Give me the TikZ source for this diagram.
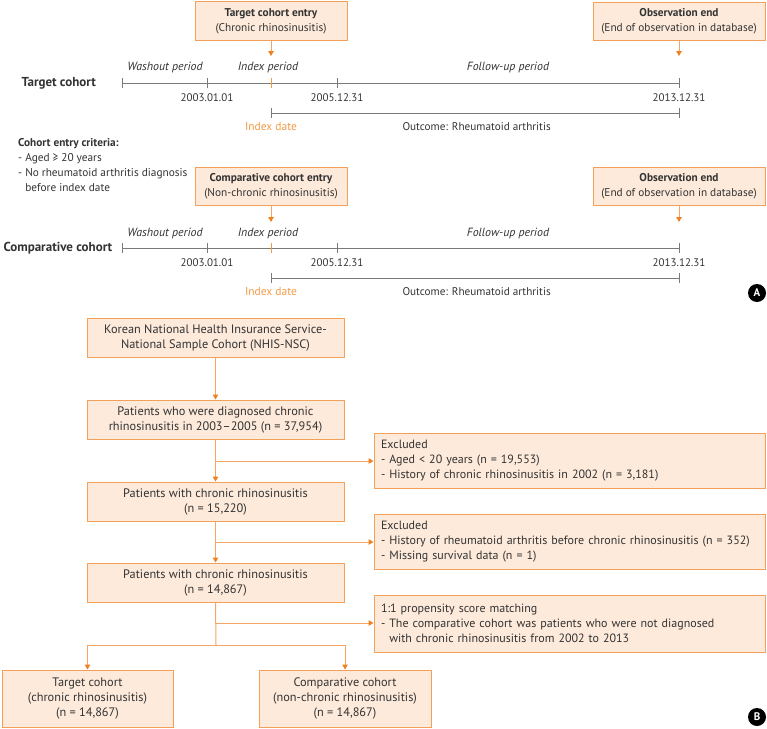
\documentclass[tikz,border=0pt]{standalone}
\usepackage{fontspec}
\setmainfont{PT Sans}
\usetikzlibrary{arrows.meta}
\definecolor{boxfill}{HTML}{FDEADB}
\definecolor{boxdraw}{HTML}{F3A05A}
\definecolor{conc}{HTML}{F5A666}
\definecolor{arrh}{HTML}{F07F1E}
\definecolor{txt}{HTML}{333333}
\definecolor{tl}{HTML}{7A7A7A}
\definecolor{idx}{HTML}{F39A45}
\begin{document}
\begin{tikzpicture}[x=1pt,y=-1pt,
  font=\fontsize{12.3}{15}\selectfont, text=txt,
  box/.style={draw=boxdraw, fill=boxfill, line width=1pt, inner sep=0pt, align=center},
  abox/.style={box, font=\fontsize{11.3}{15}\selectfont},
  lbox/.style={draw=boxdraw, fill=boxfill, line width=1pt, inner xsep=7pt, inner ysep=0pt, align=left, font=\fontsize{12}{15}\selectfont},
  con/.style={draw=conc, line width=1pt},
  arrowc/.style={con, -{Triangle[length=5pt,width=5.5pt,color=arrh]}},
  tline/.style={draw=tl, line width=0.9pt},
  itick/.style={draw=idx, line width=1pt},
  tlab/.style={font=\fontsize{11.9}{13}\itshape},
  dlab/.style={font=\fontsize{11}{13}\selectfont},
  cohort/.style={anchor=west, font=\fontsize{13}{15}\bfseries},
  badge/.style={circle, fill=black, text=white, inner sep=0pt, minimum size=18pt, font=\fontsize{11}{12}\bfseries}]
\useasboundingbox (0,0) rectangle (767,728);

% ---------- Part A : target cohort ----------
\node[abox, minimum width=152, minimum height=39] (te) at (271,21) {\textbf{Target cohort entry}\\(Chronic rhinosinusitis)};
\node[abox, minimum width=172, minimum height=38] (oe) at (679,21) {\textbf{Observation end}\\(End of observation in database)};
\coordinate (tea) at (271,56);
\coordinate (oea) at (679,56);
\draw[arrowc] (te.south) -- (tea);
\draw[arrowc] (oe.south) -- (oea);

\node[cohort] (tcl) at (18,83) {Target cohort};
\coordinate (a0) at (122,83);
\coordinate (a1) at (207,83);
\coordinate (aI) at (271,83);
\coordinate (a2) at (337,83);
\coordinate (a3) at (679,83);
\draw[tline] (a0) -- (a3);
\foreach \c in {a0,a1,a2,a3} \draw[tline] ([yshift=-5pt]\c) -- ([yshift=5pt]\c);
\draw[itick] ([yshift=-5pt]aI) -- ([yshift=5pt]aI);
\node[tlab] (aw) at (165,67) {Washout period};
\node[tlab] (ai) at (268,67) {Index period};
\node[tlab] (af) at (508,67) {Follow-up period};
\node[dlab] (ad1) at (207,98) {2003.01.01};
\node[dlab] (ad2) at (337,98) {2005.12.31};
\node[dlab] (ad3) at (679,98) {2013.12.31};
\coordinate (ao0) at (271,113);
\coordinate (ao1) at (679,113);
\draw[tline] (ao0) -- (ao1);
\foreach \c in {ao0,ao1} \draw[tline] ([yshift=-5pt]\c) -- ([yshift=5pt]\c);
\node[text=idx, font=\fontsize{11.5}{13}\selectfont] (aid) at (271,127) {Index date};
\node[anchor=west, font=\fontsize{11.2}{13}\selectfont] (aout) at (399,127) {Outcome: Rheumatoid arthritis};

% ---------- criteria ----------
\node[anchor=north west, align=left, font=\fontsize{11.3}{15}\selectfont, inner sep=0pt] (crit) at (18,138)
  {\textbf{Cohort entry criteria:}\\- Aged ≥ 20 years\\- No rheumatoid arthritis diagnosis\\\phantom{- }before index date};

% ---------- Part A : comparative cohort ----------
\node[abox, minimum width=152, minimum height=38] (ce) at (271,186) {\textbf{Comparative cohort entry}\\(Non-chronic rhinosinusitis)};
\node[abox, minimum width=172, minimum height=38] (oe2) at (679,186) {\textbf{Observation end}\\(End of observation in database)};
\coordinate (cea) at (271,222);
\coordinate (oea2) at (679,222);
\draw[arrowc] (ce.south) -- (cea);
\draw[arrowc] (oe2.south) -- (oea2);

\node[cohort] (ccl) at (0,248) {Comparative cohort};
\coordinate (c0) at (122,248);
\coordinate (c1) at (207,248);
\coordinate (cI) at (271,248);
\coordinate (c2) at (337,248);
\coordinate (c3) at (679,248);
\draw[tline] (c0) -- (c3);
\foreach \c in {c0,c1,c2,c3} \draw[tline] ([yshift=-5pt]\c) -- ([yshift=5pt]\c);
\draw[itick] ([yshift=-5pt]cI) -- ([yshift=5pt]cI);
\node[tlab] (cw) at (165,233) {Washout period};
\node[tlab] (ci) at (268,233) {Index period};
\node[tlab] (cf) at (508,233) {Follow-up period};
\node[dlab] (cd1) at (207,263) {2003.01.01};
\node[dlab] (cd2) at (337,263) {2005.12.31};
\node[dlab] (cd3) at (679,263) {2013.12.31};
\coordinate (co0) at (271,278);
\coordinate (co1) at (679,278);
\draw[tline] (co0) -- (co1);
\foreach \c in {co0,co1} \draw[tline] ([yshift=-5pt]\c) -- ([yshift=5pt]\c);
\node[text=idx, font=\fontsize{11.5}{13}\selectfont] (cid) at (271,292) {Index date};
\node[anchor=west, font=\fontsize{11.2}{13}\selectfont] (cout) at (399,292) {Outcome: Rheumatoid arthritis};

\node[badge] (bA) at (757,293) {A};

% ---------- Part B ----------
\node[box, minimum width=257, minimum height=39] (b1) at (215.5,337.5) {Korean National Health Insurance Service-\\National Sample Cohort (NHIS-NSC)};
\node[box, minimum width=257, minimum height=39] (b2) at (215.5,419.5) {Patients who were diagnosed chronic\\rhinosinusitis in 2003–2005 (n = 37,954)};
\node[box, minimum width=257, minimum height=39] (b3) at (215.5,501.5) {Patients with chronic rhinosinusitis\\(n = 15,220)};
\node[box, minimum width=257, minimum height=39] (b4) at (215.5,582.5) {Patients with chronic rhinosinusitis\\(n = 14,867)};

\node[lbox, minimum width=391, minimum height=55, text width=377] (x1) at (569.5,460.5)
  {Excluded\\- Aged < 20 years (n = 19,553)\\- History of chronic rhinosinusitis in 2002 (n = 3,181)};
\node[lbox, minimum width=391, minimum height=55, text width=377] (x2) at (569.5,541.5)
  {Excluded\\- History of rheumatoid arthritis before chronic rhinosinusitis (n = 352)\\- Missing survival data (n = 1)};
\node[lbox, minimum width=391, minimum height=57, text width=377] (x3) at (569.5,623.5)
  {1:1 propensity score matching\\- The comparative cohort was patients who were not diagnosed\\\phantom{- }with chronic rhinosinusitis from 2002 to 2013};

\node[box, minimum width=171, minimum height=57] (tc) at (87.5,698.5) {Target cohort\\(chronic rhinosinusitis)\\(n = 14,867)};
\node[box, minimum width=172, minimum height=57] (cc) at (345,698.5) {Comparative cohort\\(non-chronic rhinosinusitis)\\(n = 14,867)};

\draw[arrowc] (b1) -- (b2);
\draw[arrowc] (b2) -- (b3);
\draw[arrowc] (b3) -- (b4);
\coordinate (j1) at (216,461);
\coordinate (j2) at (216,542);
\coordinate (j3) at (216,623);
\coordinate (j4) at (216,645);
\draw[arrowc] (j1) -- (j1 -| x1.west);
\draw[arrowc] (j2) -- (j2 -| x2.west);
\draw[con] (b4.south) -- (j4);
\draw[arrowc] (j3) -- (j3 -| x3.west);
\draw[arrowc] (j4) -| (tc.north);
\draw[arrowc] (j4) -| (cc.north);

\node[badge] (bB) at (757,717) {B};
\end{tikzpicture}
\end{document}
